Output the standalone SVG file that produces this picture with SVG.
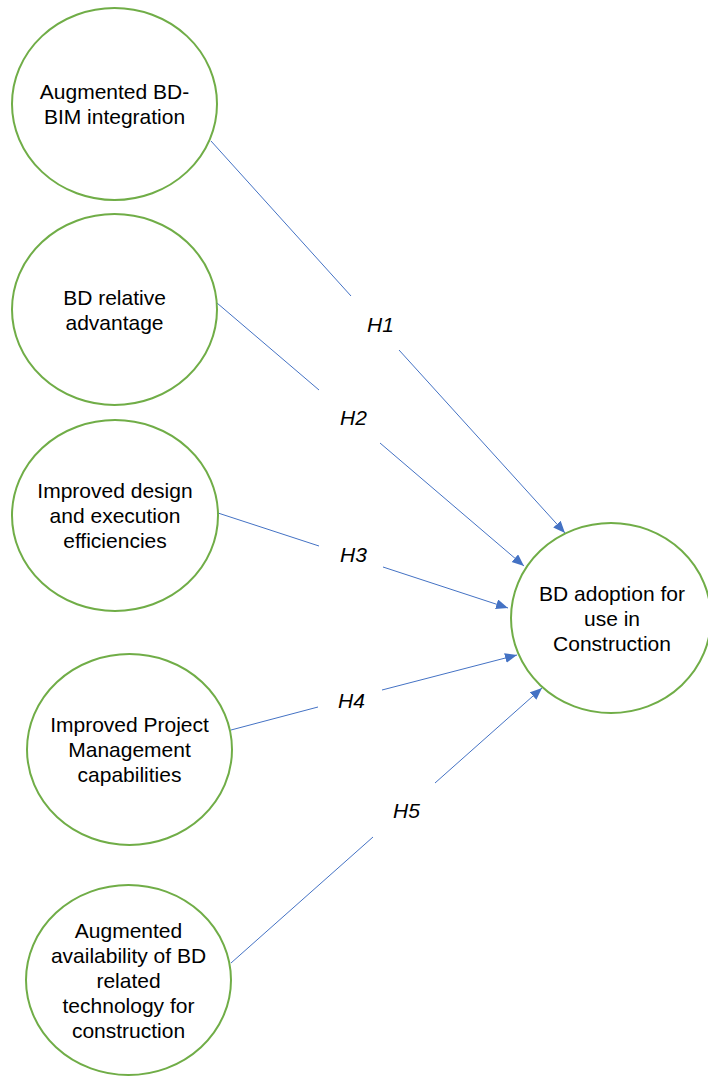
<svg xmlns="http://www.w3.org/2000/svg" width="708" height="1076" viewBox="0 0 708 1076">
  <style>
    .node { fill: #ffffff; stroke: #70AD47; stroke-width: 2; }
    .label { font-family: "Liberation Sans", Arial, Helvetica, sans-serif; font-size: 21px; fill: #000000; text-anchor: middle; }
    .hyp { font-family: "Liberation Sans", Arial, Helvetica, sans-serif; font-size: 21px; font-style: italic; fill: #000000; }
    .edge { fill: none; stroke: #4472C4; stroke-width: 1; }
  </style>
  <defs>
    <marker id="arrow" markerUnits="userSpaceOnUse" markerWidth="13" markerHeight="11" refX="12" refY="5" orient="auto">
      <path d="M0,0 L12,5 L0,10 z" fill="#4472C4"/>
    </marker>
  </defs>
  <rect width="708" height="1076" fill="#ffffff"/>

  <!-- connectors: each path is split around its hypothesis label -->
  <g id="connectors">
    <path class="edge" d="M211,141 L351,296"/>
    <path class="edge" d="M399,350 L565,533" marker-end="url(#arrow)"/>
    <path class="edge" d="M217,303 L319,390"/>
    <path class="edge" d="M380,443 L524,566" marker-end="url(#arrow)"/>
    <path class="edge" d="M218,513 L319,546"/>
    <path class="edge" d="M383,567 L508,608" marker-end="url(#arrow)"/>
    <path class="edge" d="M231,730 L318,707"/>
    <path class="edge" d="M382,690 L517,655" marker-end="url(#arrow)"/>
    <path class="edge" d="M231,963 L373,837"/>
    <path class="edge" d="M435,783 L542,688" marker-end="url(#arrow)"/>
    <text class="hyp" x="367" y="332">H1</text>
    <text class="hyp" x="340" y="425">H2</text>
    <text class="hyp" x="340" y="562">H3</text>
    <text class="hyp" x="338" y="708">H4</text>
    <text class="hyp" x="393" y="818">H5</text>
  </g>

  <g id="bim-integration">
    <ellipse class="node" cx="114.5" cy="104" rx="102.5" ry="96"/>
    <text class="label" x="114.5" y="99">Augmented BD-</text>
    <text class="label" x="114.5" y="124">BIM integration</text>
  </g>

  <g id="relative-advantage">
    <ellipse class="node" cx="114.5" cy="309.5" rx="102.5" ry="95.5"/>
    <text class="label" x="114.5" y="304.5">BD relative</text>
    <text class="label" x="114.5" y="329.5">advantage</text>
  </g>

  <g id="design-efficiencies">
    <ellipse class="node" cx="115" cy="515.5" rx="103" ry="95.5"/>
    <text class="label" x="115" y="498">Improved design</text>
    <text class="label" x="115" y="523">and execution</text>
    <text class="label" x="115" y="548">efficiencies</text>
  </g>

  <g id="pm-capabilities">
    <ellipse class="node" cx="129.5" cy="749.5" rx="102.5" ry="95.5"/>
    <text class="label" x="129.5" y="732">Improved Project</text>
    <text class="label" x="129.5" y="757">Management</text>
    <text class="label" x="129.5" y="782">capabilities</text>
  </g>

  <g id="technology-availability">
    <ellipse class="node" cx="128.5" cy="980" rx="102.5" ry="95"/>
    <text class="label" x="128.5" y="937.5">Augmented</text>
    <text class="label" x="128.5" y="962.5">availability of BD</text>
    <text class="label" x="128.5" y="987.5">related</text>
    <text class="label" x="128.5" y="1012.5">technology for</text>
    <text class="label" x="128.5" y="1037.5">construction</text>
  </g>

  <g id="bd-adoption">
    <ellipse class="node" cx="611" cy="618" rx="100" ry="95"/>
    <text class="label" x="612" y="600.5">BD adoption for</text>
    <text class="label" x="612" y="625.5">use in</text>
    <text class="label" x="612" y="650.5">Construction</text>
  </g>
</svg>
